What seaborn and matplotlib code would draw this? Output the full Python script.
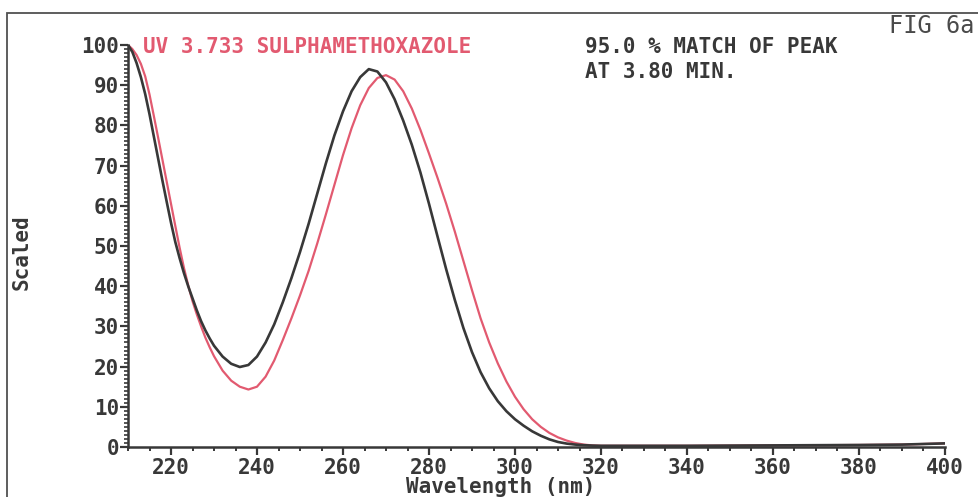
import matplotlib
matplotlib.use("Agg")
import matplotlib.pyplot as plt
import pandas as pd
import seaborn as sns
from matplotlib.ticker import MultipleLocator
from matplotlib.patches import Rectangle

# ---------------- data ----------------
wavelength = [210, 211, 212, 213, 214, 215, 216, 217, 218, 219, 220,
              221, 222, 223, 224, 225, 226, 227, 228, 229, 230,
              232, 234, 236, 238, 240, 242, 244, 246, 248, 250,
              252, 254, 256, 258, 260, 262, 264, 266, 268, 270,
              272, 274, 276, 278, 280, 282, 284, 286, 288, 290,
              292, 294, 296, 298, 300, 302, 304, 306, 308, 310,
              312, 314, 316, 318, 320,
              330, 340, 350, 360, 370, 380, 390, 400]

# black trace: spectrum of the peak at 3.80 min
peak_scaled = [100, 98.3, 95.5, 92, 87.8, 82.8, 77.3, 71.8, 66.3, 61, 55.8,
               51, 47, 43.3, 40, 37, 34, 31.3, 29, 27, 25.2,
               22.5, 20.7, 19.9, 20.4, 22.5, 26, 30.5, 36, 42, 48.5,
               55.5, 63, 70.5, 77.5, 83.5, 88.5, 92, 94, 93.4, 90.7,
               86.5, 81.2, 75.2, 68.3, 60.5, 52.3, 44.2, 36.6, 29.6, 23.6,
               18.6, 14.6, 11.4, 8.9, 6.9, 5.3, 3.9, 2.8, 1.9, 1.25,
               0.85, 0.6, 0.45, 0.35, 0.3,
               0.3, 0.3, 0.35, 0.4, 0.45, 0.5, 0.6, 0.9]

# red trace: library spectrum UV 3.733 SULPHAMETHOXAZOLE
library_scaled = [100, 99, 97.5, 95.3, 92.2, 87.7, 82.4, 77, 71.5, 66, 60.5,
                  55, 49.6, 44.6, 40.2, 36.3, 33, 30, 27.2, 24.8, 22.6,
                  19, 16.5, 15, 14.3, 15, 17.5, 21.5, 26.6, 32, 37.7,
                  43.8, 50.6, 57.8, 65.2, 72.6, 79.3, 85, 89.3, 91.8, 92.5,
                  91.4, 88.5, 84.2, 78.9, 73, 66.9, 60.5, 53.6, 46.3, 39,
                  32, 26, 20.8, 16.3, 12.5, 9.4, 6.9, 5, 3.5, 2.4,
                  1.6, 1.0, 0.6, 0.4, 0.3,
                  0.3, 0.3, 0.35, 0.4, 0.45, 0.5, 0.6, 0.9]

library_label = "UV 3.733 SULPHAMETHOXAZOLE"
match_line1 = "95.0 % MATCH OF PEAK"
match_line2 = "AT 3.80 MIN."
fig_label = "FIG 6a"
x_label = "Wavelength (nm)"
y_label = "Scaled"

RED = "#e25a70"
DARK = "#383838"

# ---------------- styling ----------------
sns.set_style("white")
plt.rcParams["font.family"] = ["DejaVu Sans Mono", "DejaVu Sans"]
plt.rcParams["font.weight"] = "bold"

df = pd.DataFrame({
    "wavelength": wavelength * 2,
    "scaled": library_scaled + peak_scaled,
    "trace": ["library"] * len(wavelength) + ["peak"] * len(wavelength),
})

fig = plt.figure(figsize=(9.79, 4.97), dpi=100)
ax = fig.add_axes([128 / 979, 1 - 447 / 497, (945 - 128) / 979, (447 - 45) / 497])

sns.lineplot(data=df[df.trace == "library"], x="wavelength", y="scaled",
             color=RED, linewidth=1.6, ax=ax, legend=False)
sns.lineplot(data=df[df.trace == "peak"], x="wavelength", y="scaled",
             color=DARK, linewidth=1.9, ax=ax, legend=False)

ax.set_xlim(210, 400)
ax.set_ylim(0, 100)
ax.set_xlabel("")
ax.set_ylabel("")

for s in ("top", "right"):
    ax.spines[s].set_visible(False)
for s in ("left", "bottom"):
    ax.spines[s].set_color(DARK)
    ax.spines[s].set_linewidth(1.8)

ax.xaxis.set_major_locator(MultipleLocator(20))
ax.xaxis.set_minor_locator(MultipleLocator(5))
ax.yaxis.set_major_locator(MultipleLocator(10))
ax.yaxis.set_minor_locator(MultipleLocator(1))
ax.set_xticks([220, 240, 260, 280, 300, 320, 340, 360, 380, 400])

ax.tick_params(axis="x", which="major", direction="out", length=6, width=1.6,
               color=DARK, labelcolor=DARK, labelsize=15, pad=2, bottom=True)
ax.tick_params(axis="x", which="minor", direction="out", length=3, width=1.4,
               color=DARK, bottom=True)
ax.tick_params(axis="y", which="major", direction="out", length=6, width=1.6,
               color=DARK, labelcolor=DARK, labelsize=15, pad=0.5, left=True)
ax.tick_params(axis="y", which="minor", direction="out", length=3, width=1.2,
               color=DARK, left=True)
for lab in ax.get_xticklabels() + ax.get_yticklabels():
    lab.set_fontweight("bold")

# texts
fig.text(143 / 979, 1 - 47 / 497, library_label, color=RED, fontsize=15,
         fontweight="bold", ha="left", va="center")
fig.text(585 / 979, 1 - 47 / 497, match_line1, color=DARK, fontsize=15,
         fontweight="bold", ha="left", va="center")
fig.text(585 / 979, 1 - 72 / 497, match_line2, color=DARK, fontsize=15,
         fontweight="bold", ha="left", va="center")
fig.text(975 / 979, 1 - 26 / 497, fig_label, color="#4a4a4a", fontsize=17,
         fontweight="normal", ha="right", va="center")
fig.text(501 / 979, 1 - 487 / 497, x_label, color=DARK, fontsize=15,
         fontweight="bold", ha="center", va="center")
fig.text(22 / 979, 1 - 252 / 497, y_label, color=DARK, fontsize=15,
         fontweight="bold", ha="center", va="center", rotation=90)

# outer frame of the printout
fig.add_artist(Rectangle((7 / 979, -0.05), 1.2, (1 - 13 / 497) + 0.05,
                         transform=fig.transFigure, fill=False,
                         edgecolor="#505050", linewidth=1.3))

fig.savefig("out.png", dpi=100)
